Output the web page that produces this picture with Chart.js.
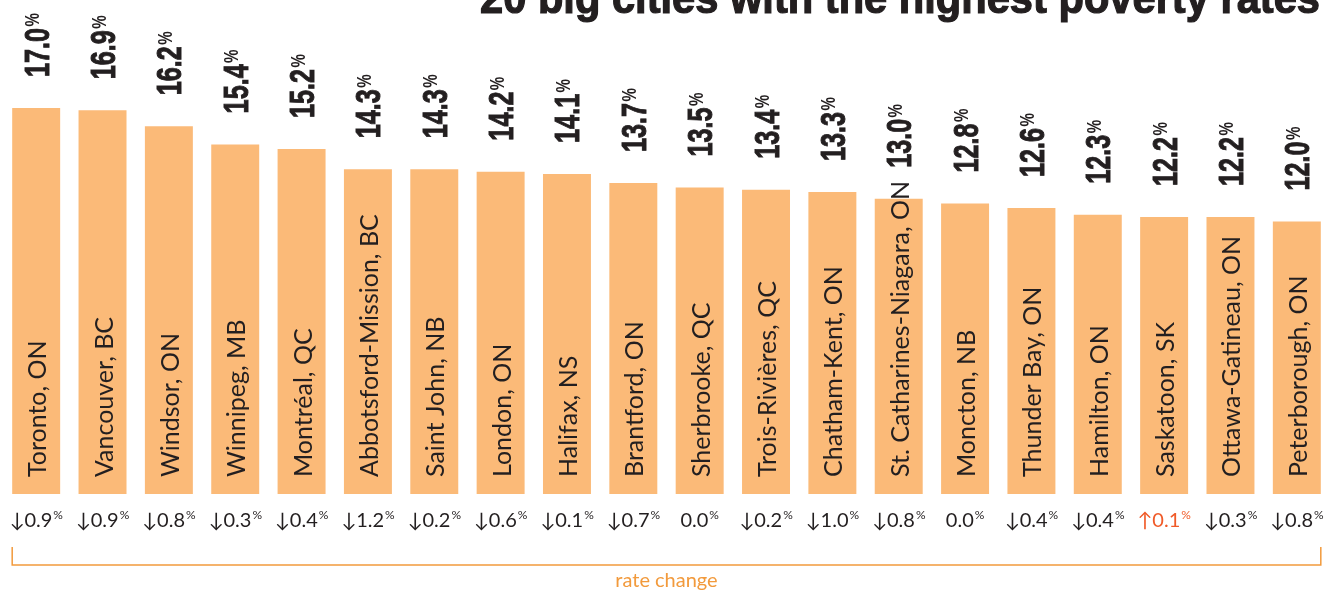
<!DOCTYPE html>
<html>
<head>
<meta charset="utf-8">
<script src="https://cdn.jsdelivr.net/npm/chart.js@4/dist/chart.umd.min.js"></script>
<style>
  html, body { margin: 0; padding: 0; background: #fff; }
  canvas { display: block; }
</style>
</head>
<body>
<canvas id="chart" width="1330" height="596"></canvas>
<script>
// Data
const cities = ['Toronto, ON', 'Vancouver, BC', 'Windsor, ON', 'Winnipeg, MB', 'Montréal, QC',
  'Abbotsford-Mission, BC', 'Saint John, NB', 'London, ON', 'Halifax, NS', 'Brantford, ON',
  'Sherbrooke, QC', 'Trois-Rivières, QC', 'Chatham-Kent, ON', 'St. Catharines-Niagara, ON', 'Moncton, NB',
  'Thunder Bay, ON', 'Hamilton, ON', 'Saskatoon, SK', 'Ottawa-Gatineau, ON', 'Peterborough, ON'];
const rates = [17.0, 16.9, 16.2, 15.4, 15.2, 14.3, 14.3, 14.2, 14.1, 13.7,
  13.5, 13.4, 13.3, 13.0, 12.8, 12.6, 12.3, 12.2, 12.2, 12.0];
const rateChanges = [-0.9, -0.9, -0.8, -0.3, -0.4, -1.2, -0.2, -0.6, -0.1, -0.7,
  0.0, -0.2, -1.0, -0.8, 0.0, -0.4, -0.4, 0.1, -0.3, -0.8];
const title = '20 big cities with the highest poverty rates';
const bracketLabel = 'rate change';

const dark = '#231f20';
const barColor = '#fbba78';
const orange = '#f29a3c';
const red = '#f05a28';

// Text drawing plugin
const labelsPlugin = {
  id: 'labels',
  afterDatasetsDraw(chart) {
    const ctx = chart.ctx;
    const bars = chart.getDatasetMeta(0).data;

    // title (condensed bold, partly cut off at top)
    ctx.save();
    ctx.fillStyle = dark;
    ctx.strokeStyle = dark;
    ctx.lineWidth = 1.2;
    ctx.font = 'bold 44px "Liberation Sans", Arial, sans-serif';
    ctx.textBaseline = 'alphabetic';
    ctx.textAlign = 'left';
    const tw = ctx.measureText(title).width;
    ctx.translate(480, 13);
    ctx.scale(840 / tw, 1);
    ctx.fillText(title, 0, 0);
    ctx.strokeText(title, 0, 0);
    ctx.restore();

    bars.forEach((bar, i) => {
      // value labels above bars
      ctx.save();
      ctx.translate(bar.x, bar.y - 31);
      ctx.rotate(-Math.PI / 2);
      ctx.scale(0.72, 1);
      ctx.fillStyle = dark;
      ctx.strokeStyle = dark;
      ctx.lineWidth = 1;
      ctx.textAlign = 'left';
      ctx.textBaseline = 'alphabetic';
      ctx.font = 'bold 35px "Liberation Sans", Arial, sans-serif';
      const txt = rates[i].toFixed(1);
      ctx.fillText(txt, 0, 12.5);
      ctx.strokeText(txt, 0, 12.5);
      const w = ctx.measureText(txt).width;
      ctx.font = 'bold 21px "Liberation Sans", Arial, sans-serif';
      ctx.fillText('%', w + 2, 3);
      ctx.restore();

      // city names inside bars
      ctx.save();
      ctx.translate(bar.x, 477);
      ctx.rotate(-Math.PI / 2);
      ctx.fillStyle = dark;
      ctx.textAlign = 'left';
      ctx.textBaseline = 'alphabetic';
      ctx.font = '25px Lato, "Open Sans", sans-serif';
      ctx.fillText(cities[i], 0, 10);
      ctx.restore();

      // rate change below bars
      const c = rateChanges[i];
      let main = Math.abs(c).toFixed(1);
      if (c < 0) main = '↓' + main;
      if (c > 0) main = '↑' + main;
      ctx.save();
      ctx.fillStyle = c > 0 ? red : dark;
      ctx.textAlign = 'left';
      ctx.textBaseline = 'alphabetic';
      ctx.font = '20px Lato, "DejaVu Sans", sans-serif';
      const mw = ctx.measureText(main).width;
      ctx.font = '12px Lato, sans-serif';
      const pw = ctx.measureText('%').width;
      const x0 = bar.x - (mw + pw + 1) / 2;
      ctx.font = '20px Lato, "DejaVu Sans", sans-serif';
      ctx.fillText(main, x0, 527);
      ctx.font = '12px Lato, sans-serif';
      ctx.fillText('%', x0 + mw + 1, 519);
      ctx.restore();
    });

    // bracket
    const first = bars[0];
    const last = bars[bars.length - 1];
    const left = first.x - first.width / 2;
    const right = last.x + last.width / 2;
    ctx.save();
    ctx.strokeStyle = orange;
    ctx.lineWidth = 1.5;
    ctx.beginPath();
    ctx.moveTo(left, 547);
    ctx.lineTo(left, 565);
    ctx.lineTo(right, 565);
    ctx.lineTo(right, 547);
    ctx.stroke();
    ctx.fillStyle = orange;
    ctx.font = '20px Lato, sans-serif';
    ctx.textAlign = 'center';
    ctx.textBaseline = 'middle';
    ctx.fillText(bracketLabel, (left + right) / 2, 581);
    ctx.restore();
  }
};

new Chart(document.getElementById('chart'), {
  type: 'bar',
  data: {
    labels: cities,
    datasets: [{
      data: rates,
      backgroundColor: barColor,
      borderWidth: 0,
      barPercentage: 0.723,
      categoryPercentage: 1
    }]
  },
  options: {
    responsive: false,
    devicePixelRatio: 1,
    animation: false,
    layout: { padding: { left: 3, right: 0, top: 0, bottom: 102 } },
    plugins: {
      legend: { display: false },
      tooltip: { enabled: false }
    },
    scales: {
      x: { display: false },
      y: { display: false, min: 0, max: 21.76 }
    }
  },
  plugins: [labelsPlugin]
});
</script>
</body>
</html>
